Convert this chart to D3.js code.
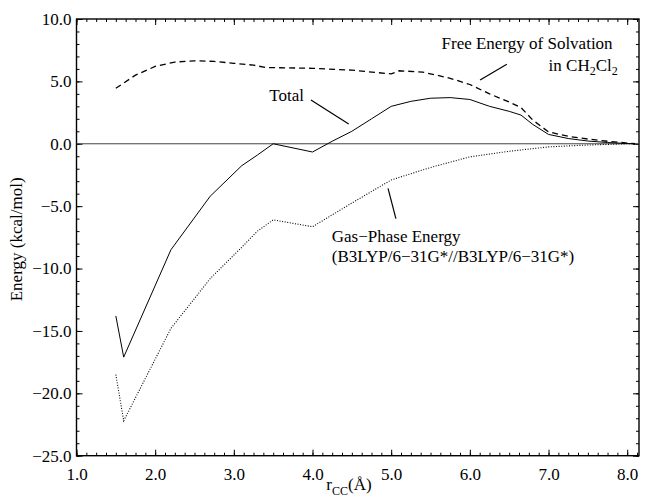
<!DOCTYPE html>
<html>
<head>
<meta charset="utf-8">
<script src="https://cdn.jsdelivr.net/npm/d3@7"></script>
<style>
  body { margin: 0; background: #fff; }
  svg { display: block; font-family: "Liberation Serif", "Times New Roman", serif; }
</style>
</head>
<body>
<svg id="chart"></svg>
<script>
// values (energies in kcal/mol, r_CC in Angstrom)
var totalR = [1.5, 1.6, 2.2, 2.7, 3.1, 3.3, 3.5, 4.0, 4.25, 4.5, 4.75, 5.0, 5.25, 5.5, 5.75, 6.0, 6.25, 6.5, 6.65, 6.8, 7.0, 7.25, 7.5, 7.75, 8.0, 8.1];
var totalE = [-13.8, -17.1, -8.5, -4.2, -1.76, -0.9, 0.0, -0.66, 0.2, 1.0, 2.0, 3.0, 3.4, 3.65, 3.7, 3.55, 3.0, 2.6, 2.3, 1.55, 0.75, 0.42, 0.22, 0.1, 0.02, 0.0];

var gasR = [1.5, 1.6, 2.2, 2.7, 3.1, 3.3, 3.5, 4.0, 4.5, 5.0, 5.5, 6.0, 6.5, 7.0, 7.5, 8.0, 8.1];
var gasE = [-18.5, -22.2, -14.8, -10.8, -8.3, -7.0, -6.1, -6.65, -4.75, -2.9, -1.9, -1.05, -0.6, -0.25, -0.1, 0.0, 0.0];

var solvR = [1.5, 1.75, 2.0, 2.25, 2.5, 2.75, 3.0, 3.25, 3.4, 3.5, 4.0, 4.5, 5.0, 5.1, 5.4, 5.75, 6.0, 6.25, 6.5, 6.65, 6.8, 7.0, 7.25, 7.5, 7.75, 8.0, 8.1];
var solvE = [4.45, 5.5, 6.2, 6.55, 6.65, 6.6, 6.45, 6.3, 6.12, 6.1, 6.05, 5.9, 5.6, 5.85, 5.75, 5.25, 4.75, 4.0, 3.35, 2.9, 1.9, 0.95, 0.6, 0.38, 0.2, 0.06, 0.0];

var xTicks = [1, 2, 3, 4, 5, 6, 7, 8];
var yTicks = [10, 5, 0, -5, -10, -15, -20, -25];

(function() {
    'use strict';

    var WIDTH = 645, HEIGHT = 497;
    var margin = { left: 76.5, right: 6, top: 19, bottom: 41.3 };

    var svg = d3.select('#chart').attr('width', WIDTH).attr('height', HEIGHT);

    var x = d3.scaleLinear().domain([1, 8.15]).range([margin.left, WIDTH - margin.right]);
    var y = d3.scaleLinear().domain([-25, 10]).range([HEIGHT - margin.bottom, margin.top]);

    var fmt = d3.format('.1f');
    var x0 = x.range()[0], x1 = x.range()[1], y0 = y.range()[0], y1 = y.range()[1];

    // minor ticks: x every 1/8, y every 1
    var xMinor = d3.range(0, 58).map(i => 1 + i / 8).filter(v => v <= 8.15);
    var yMinor = d3.range(-25, 11);

    function styleAxis(g) {
        g.select('.domain').remove();
        g.selectAll('line').attr('stroke', '#000').attr('stroke-width', 1);
        g.selectAll('text').attr('font-size', 17).attr('fill', '#000')
            .attr('font-family', '"Liberation Serif", "Times New Roman", serif');
    }

    // bottom
    svg.append('g').attr('transform', 'translate(0,' + y0 + ')')
        .call(d3.axisBottom(x).tickValues(xMinor).tickSizeInner(-3).tickSizeOuter(0).tickFormat(''))
        .call(styleAxis);
    svg.append('g').attr('transform', 'translate(0,' + y0 + ')')
        .call(d3.axisBottom(x).tickValues(xTicks).tickSizeInner(-6).tickSizeOuter(0).tickFormat(fmt))
        .call(styleAxis)
        .call(g => g.selectAll('text').attr('y', 12).attr('dy', '0.71em'));
    // top
    svg.append('g').attr('transform', 'translate(0,' + y1 + ')')
        .call(d3.axisTop(x).tickValues(xMinor).tickSizeInner(-3).tickSizeOuter(0).tickFormat(''))
        .call(styleAxis);
    svg.append('g').attr('transform', 'translate(0,' + y1 + ')')
        .call(d3.axisTop(x).tickValues(xTicks).tickSizeInner(-6).tickSizeOuter(0).tickFormat(''))
        .call(styleAxis);
    // left
    svg.append('g').attr('transform', 'translate(' + x0 + ',0)')
        .call(d3.axisLeft(y).tickValues(yMinor).tickSizeInner(-3).tickSizeOuter(0).tickFormat(''))
        .call(styleAxis);
    svg.append('g').attr('transform', 'translate(' + x0 + ',0)')
        .call(d3.axisLeft(y).tickValues(yTicks).tickSizeInner(-6).tickSizeOuter(0).tickFormat(fmt))
        .call(styleAxis)
        .call(g => g.selectAll('text').attr('x', -5));
    // right
    svg.append('g').attr('transform', 'translate(' + x1 + ',0)')
        .call(d3.axisRight(y).tickValues(yMinor).tickSizeInner(-3).tickSizeOuter(0).tickFormat(''))
        .call(styleAxis);
    svg.append('g').attr('transform', 'translate(' + x1 + ',0)')
        .call(d3.axisRight(y).tickValues(yTicks).tickSizeInner(-6).tickSizeOuter(0).tickFormat(''))
        .call(styleAxis);

    // frame
    svg.append('rect')
        .attr('x', x0).attr('y', y1)
        .attr('width', x1 - x0).attr('height', y0 - y1)
        .attr('fill', 'none').attr('stroke', '#000').attr('stroke-width', 1.4);

    // zero line
    svg.append('line')
        .attr('x1', x0).attr('x2', x1)
        .attr('y1', y(0)).attr('y2', y(0))
        .attr('stroke', '#444').attr('stroke-width', 1);

    var line = d3.line().x(d => x(d[0])).y(d => y(d[1]));

    var series = [
        { r: solvR, e: solvE, dash: '6,4', w: 1.3 },
        { r: gasR, e: gasE, dash: '1,1.6', w: 1.1 },
        { r: totalR, e: totalE, dash: null, w: 1 }
    ];

    svg.selectAll('.curve').data(series).enter()
        .append('path')
            .attr('class', 'curve')
            .attr('d', s => line(d3.zip(s.r, s.e)))
            .attr('fill', 'none')
            .attr('stroke', '#000')
            .attr('stroke-width', s => s.w)
            .attr('stroke-dasharray', s => s.dash);

    // annotation leaders, in data units
    var leaders = [
        [[6.47, 6.37], [6.13, 5.11]],
        [[3.98, 3.51], [4.46, 1.58]],
        [[4.96, -3.57], [5.06, -6.0]]
    ];
    svg.selectAll('.leader').data(leaders).enter()
        .append('line')
            .attr('class', 'leader')
            .attr('x1', d => x(d[0][0])).attr('y1', d => y(d[0][1]))
            .attr('x2', d => x(d[1][0])).attr('y2', d => y(d[1][1]))
            .attr('stroke', '#000').attr('stroke-width', 1.2);

    function label(tx, ty, anchor) {
        return svg.append('text')
            .attr('x', x(tx)).attr('y', y(ty))
            .attr('text-anchor', anchor || 'start')
            .attr('font-size', 17).attr('fill', '#000');
    }

    label(5.64, 7.6).text('Free Energy of Solvation');
    var ch = label(7.88, 5.83, 'end');
    ch.append('tspan').text('in CH');
    ch.append('tspan').attr('font-size', 12).attr('dy', 4).text('2');
    ch.append('tspan').attr('dy', -4).text('Cl');
    ch.append('tspan').attr('font-size', 12).attr('dy', 4).text('2');

    label(3.45, 3.43).text('Total');
    label(4.245, -7.9).text('Gas\u2212Phase Energy');
    label(4.245, -9.45).text('(B3LYP/6\u221231G*//B3LYP/6\u221231G*)');

    // axis titles
    var xt = svg.append('text')
        .attr('x', 349).attr('y', 490)
        .attr('text-anchor', 'middle')
        .attr('font-size', 17);
    xt.append('tspan').text('r');
    xt.append('tspan').attr('font-size', 12).attr('dy', 5).text('CC');
    xt.append('tspan').attr('dy', -5).text('(\u00C5)');

    svg.append('text')
        .attr('transform', 'translate(22,' + ((y0 + y1) / 2 + 2) + ') rotate(-90)')
        .attr('text-anchor', 'middle')
        .attr('font-size', 17)
        .text('Energy (kcal/mol)');
})();
</script>
</body>
</html>
